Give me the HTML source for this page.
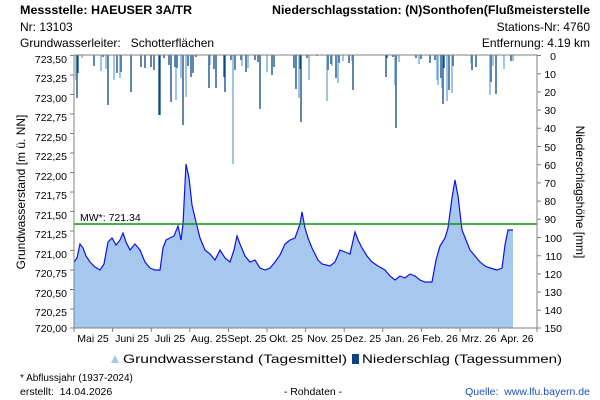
<!DOCTYPE html>
<html><head><meta charset="utf-8"><style>body{margin:0;background:#fff}svg{display:block}text{font-family:"Liberation Sans",sans-serif;fill:#000}</style></head><body>
<svg width="600" height="400" viewBox="0 0 600 400">
<g font-size="12">
<text x="20" y="14" font-weight="bold" textLength="172" lengthAdjust="spacingAndGlyphs">Messstelle: HAEUSER 3A/TR</text>
<text x="20" y="31">Nr: 13103</text>
<text x="20" y="47">Grundwasserleiter:&#160;&#160; Schotterflächen</text>
<text x="272" y="14" font-weight="bold" textLength="318" lengthAdjust="spacingAndGlyphs">Niederschlagsstation: (N)Sonthofen(Flußmeisterstelle</text>
<text x="590" y="31" text-anchor="end">Stations-Nr: 4760</text>
<text x="590" y="47" text-anchor="end">Entfernung: 4.19 km</text>
</g>
<polygon fill="#a6c8ef" points="74,328 74,262 77,258 80,244 83,248 86,256 90,262 95,267 100,270 104,264 108,242 112,238 116,245 120,240 123,233 126,242 130,250 135,244 140,250 145,262 150,268 155,270 160,270 163,248 166,240 170,238 174,236 178,226 181,240 183,224 186,164 189,178 192,205 196,222 200,238 205,250 210,254 215,260 220,250 225,258 230,262 234,250 237,236 240,244 245,256 250,262 255,260 260,268 265,270 270,268 275,262 280,255 285,244 290,240 295,238 300,224 302,212 305,228 308,238 312,248 318,260 322,264 330,266 335,262 340,250 345,252 350,254 355,232 358,240 362,248 367,256 372,262 378,266 385,270 390,276 395,280 400,276 405,278 410,274 415,276 420,280 425,282 432,282 436,260 440,246 445,238 448,228 452,198 455,180 458,196 462,230 466,240 470,250 475,256 480,262 485,266 490,268 497,270 502,268 505,245 508,230 513,230 513,328"/>
<polyline fill="none" stroke="#1010e8" stroke-width="1.2" points="74,262 77,258 80,244 83,248 86,256 90,262 95,267 100,270 104,264 108,242 112,238 116,245 120,240 123,233 126,242 130,250 135,244 140,250 145,262 150,268 155,270 160,270 163,248 166,240 170,238 174,236 178,226 181,240 183,224 186,164 189,178 192,205 196,222 200,238 205,250 210,254 215,260 220,250 225,258 230,262 234,250 237,236 240,244 245,256 250,262 255,260 260,268 265,270 270,268 275,262 280,255 285,244 290,240 295,238 300,224 302,212 305,228 308,238 312,248 318,260 322,264 330,266 335,262 340,250 345,252 350,254 355,232 358,240 362,248 367,256 372,262 378,266 385,270 390,276 395,280 400,276 405,278 410,274 415,276 420,280 425,282 432,282 436,260 440,246 445,238 448,228 452,198 455,180 458,196 462,230 466,240 470,250 475,256 480,262 485,266 490,268 497,270 502,268 505,245 508,230 513,230"/>
<g stroke="#0b4682" stroke-width="1.3">
<path d="M77,55V98M78,55V73M94,55V66M103,55V57M108,55V105M117,55V73M121,55V72M131,55V92M141,55V67M145,55V68M151,55V67M154,55V70M159,55V115M160,55V115M164,55V58M169,55V65M171,55V102M175,55V67M177,55V68M183,55V125M188,55V66M191,55V77M193,55V73M196,55V57M209,55V88M214,55V69M216,55V88M224,55V77M225,55V92M231,55V60M235,55V70M241,55V60M246,55V72M255,55V60M258,55V62M260,55V109M272,55V75M274,55V67M294,55V68M296,55V89M300,55V69M301,55V122M307,55V58M317,55V56M328,55V70M331,55V64M336,55V78M339,55V63M349,55V63M353,55V90M386,55V77M387,55V58M393,55V57M396,55V128M416,55V58M421,55V59M430,55V63M435,55V60M441,55V78M443,55V104M444,55V68M449,55V90M453,55V66M472,55V70M476,55V67M491,55V82M496,55V94M511,55V61"/>
</g>
<g stroke="#6fa3d6" stroke-width="1.3">
<path d="M76,55V80M82,55V58M101,55V71M106,55V69M114,55V80M120,55V78M176,55V100M181,55V78M186,55V97M210,55V65M233,55V164M242,55V66M248,55V68M267,55V72M299,55V98M309,55V80M327,55V101M332,55V66M338,55V83M343,55V61M352,55V61M395,55V85M399,55V62M419,55V64M437,55V80M438,55V85M442,55V88M447,55V101M452,55V93M471,55V63M490,55V95M493,55V66M504,55V69M513,55V61"/>
</g>
<line x1="74" y1="224" x2="537" y2="224" stroke="#109010" stroke-width="1.5"/>
<text x="80" y="221" font-size="10.5">MW*: 721.34</text>
<g stroke="#808080" stroke-width="1" fill="none">
<path d="M74,55V328H537V55H74"/>
</g>
<g stroke="#808080" stroke-width="1">
<path d="M70,55.5H74M70,75H74M70,94.5H74M70,114H74M70,133.5H74M70,153H74M70,172.5H74M70,192H74M70,211.5H74M70,231H74M70,250.5H74M70,270H74M70,289.5H74M70,309H74M70,328H74"/>
<path d="M537,55.5H541M537,73.7H541M537,91.9H541M537,110.1H541M537,128.3H541M537,146.5H541M537,164.7H541M537,182.9H541M537,201.1H541M537,219.3H541M537,237.5H541M537,255.7H541M537,273.9H541M537,292.1H541M537,310.3H541M537,328H541"/>
<path d="M74,328V332M112.6,328V332M151.2,328V332M189.8,328V332M228.4,328V332M267,328V332M305.6,328V332M344.2,328V332M382.8,328V332M421.4,328V332M460,328V332M498.6,328V332M537,328V332"/>
</g>
<g font-size="10.5" text-anchor="end">
<text x="67" y="63">723,50</text><text x="67" y="82">723,25</text><text x="67" y="102">723,00</text><text x="67" y="121">722,75</text><text x="67" y="141">722,50</text><text x="67" y="160">722,25</text><text x="67" y="180">722,00</text><text x="67" y="199">721,75</text><text x="67" y="219">721,50</text><text x="67" y="238">721,25</text><text x="67" y="258">721,00</text><text x="67" y="277">720,75</text><text x="67" y="297">720,50</text><text x="67" y="316">720,25</text><text x="67" y="332">720,00</text>
</g>
<g font-size="10.5" text-anchor="end">
<text x="556" y="60">0</text><text x="556" y="78">10</text><text x="556" y="96">20</text><text x="556" y="114">30</text><text x="556" y="132">40</text><text x="556" y="151">50</text><text x="556" y="169">60</text><text x="556" y="187">70</text><text x="556" y="205">80</text><text x="556" y="223">90</text><text x="562" y="242">100</text><text x="562" y="260">110</text><text x="562" y="278">120</text><text x="562" y="296">130</text><text x="562" y="314">140</text><text x="562" y="332">150</text>
</g>
<g font-size="10.5" text-anchor="middle">
<text x="93" y="342">Mai 25</text><text x="132" y="342">Juni 25</text><text x="170" y="342">Juli 25</text><text x="209" y="342">Aug. 25</text><text x="247" y="342">Sept. 25</text><text x="286" y="342">Okt. 25</text><text x="325" y="342">Nov. 25</text><text x="363" y="342">Dez. 25</text><text x="402" y="342">Jan. 26</text><text x="440" y="342">Feb. 26</text><text x="479" y="342">Mrz. 26</text><text x="517" y="342">Apr. 26</text>
</g>
<text font-size="12" transform="translate(25,192) rotate(-90)" text-anchor="middle">Grundwasserstand [m ü. NN]</text>
<text font-size="12" transform="translate(576,192) rotate(90)" text-anchor="middle">Niederschlagshöhe [mm]</text>
<path d="M111,363 l4,-8 l4,8 z" fill="#a6c8ef"/>
<text x="123" y="363" font-size="12" textLength="224" lengthAdjust="spacingAndGlyphs">Grundwasserstand (Tagesmittel)</text>
<rect x="352" y="354" width="7" height="10" fill="#0b4682"/>
<text x="362" y="363" font-size="12" textLength="200" lengthAdjust="spacingAndGlyphs">Niederschlag (Tagessummen)</text>
<text x="20" y="381" font-size="10">* Abflussjahr (1937-2024)</text>
<text x="20" y="395" font-size="10.5">erstellt:&#160; 14.04.2026</text>
<text x="313" y="395" font-size="10.5" text-anchor="middle">- Rohdaten -</text>
<text x="590" y="395" font-size="10.5" text-anchor="end" style="fill:#1a4fbf">Quelle:&#160; www.lfu.bayern.de</text>
</svg>
</body></html>
